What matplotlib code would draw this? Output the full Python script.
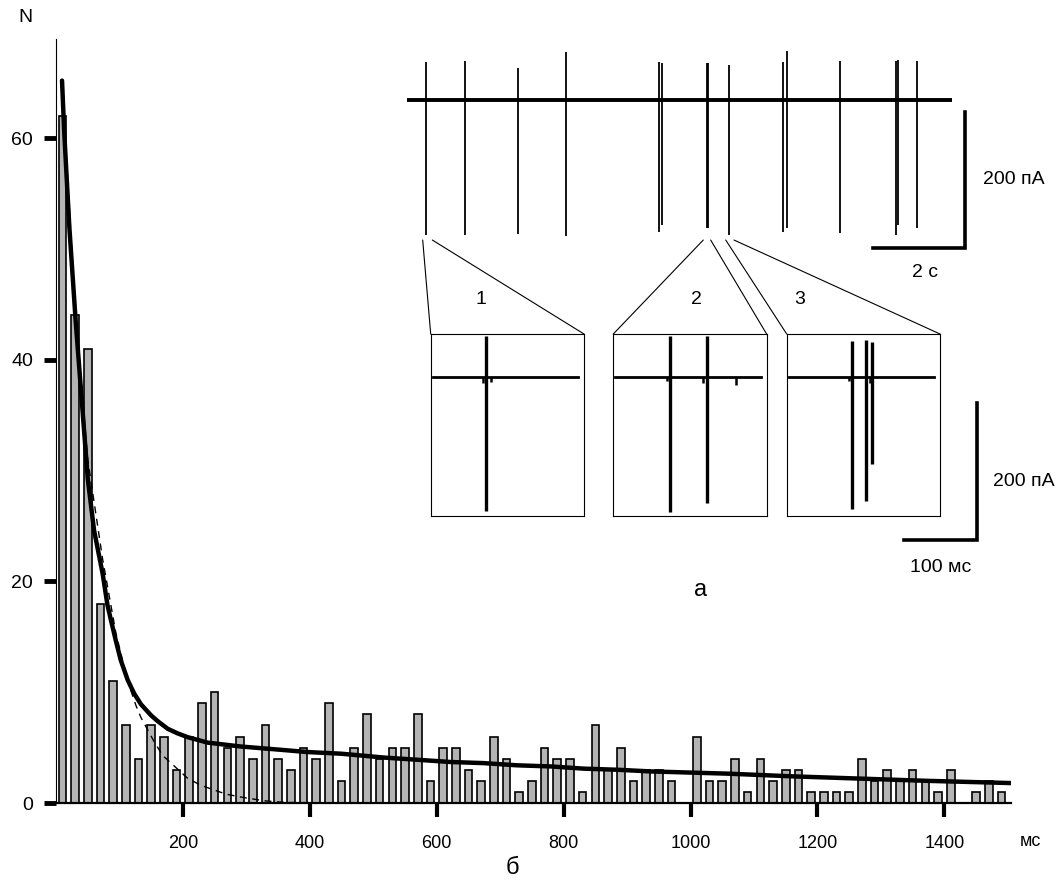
import matplotlib
matplotlib.use("Agg")
import matplotlib.pyplot as plt
from matplotlib.patches import ConnectionPatch

plt.rcParams['font.family'] = ['Liberation Sans', 'DejaVu Sans']

W, H = 1062, 884

# interval histogram, 20 ms bins (bin centres in ms)
bin_ms = list(range(10, 1500, 20))
counts = [62, 44, 41, 18, 11, 7, 4, 7, 6, 3, 6, 9, 10, 5, 6, 4, 7, 4, 3, 5, 4, 9, 2, 5, 8,
          4, 5, 5, 8, 2, 5, 5, 3, 2, 6, 4, 1, 2, 5, 4, 4, 1, 7, 3, 5, 2, 3, 3, 2,
          0, 6, 2, 2, 4, 1, 4, 2, 3, 3, 1, 1, 1, 1, 4, 2, 3, 2, 3, 2, 1, 3, 0, 1, 2, 1]

# fitted curve (thick) and fast component (dashed)
fit_ms = [9.5, 13, 21, 31, 50, 60, 73.5, 81, 86.6, 94.5, 102, 113, 123, 134, 150, 160,
          176, 191, 207, 239, 291, 344, 396, 449, 517, 570, 622, 674, 727, 780, 832,
          885, 937, 1058, 1163, 1268, 1373, 1504]
fit_n = [65.2, 60.5, 52.0, 43.5, 29.3, 24.6, 20.7, 17.9, 16.5, 14.6, 12.9, 11.1, 9.9,
         8.9, 7.9, 7.4, 6.7, 6.3, 5.95, 5.45, 5.1, 4.85, 4.6, 4.45, 4.1, 3.9, 3.7, 3.6,
         3.4, 3.3, 3.1, 3.0, 2.85, 2.65, 2.4, 2.2, 2.0, 1.8]
fast_ms = [9.5, 31, 50, 73.5, 94.5, 113, 126, 134, 155, 168, 207, 228, 268, 291, 328, 360, 450]
fast_n = [65.0, 44.0, 31.0, 22.0, 15.3, 11.0, 8.8, 7.7, 5.5, 4.3, 2.25, 1.6, 0.8, 0.54, 0.2, 0.05, 0.0]

# long recording (s, pA)
trace_end = 11.8
spike_t = [0.405, 1.263, 2.405, 3.439, 5.467, 5.532, 6.494, 6.529, 6.977,
           8.141, 8.228, 9.382, 10.589, 10.633, 11.044]
spike_up = [56, 57, 47, 70, 56, 54, 54, 54, 51, 56, 72, 57, 57, 59, 57]
spike_down = [198, 198, 196, 199, 193, 183, 188, 188, 198, 193, 188, 194, 198, 183, 188]

# expanded fragments 1-3 (ms, pA)
frag_t = [[76.4], [77.7, 127.8], [88.8, 108.5, 117.4]]
frag_up = [[60], [60, 60], [53, 54, 51]]
frag_down = [[195], [197, 184], [193, 181, 127]]
frag_dip_t = [[72, 83], [73, 123, 168], [86, 114]]
frag_dip = [[9, 7], [6, 8, 11], [6, 8]]
# where the zoom lines leave the long trace (s)
frag_anchor = [(0.34, 0.548), (6.42, 6.58), (6.906, 7.085)]
frag_left_px = [430.7, 613.3, 786.7]
frag_names = ['1', '2', '3']
frag_name_px = [(481, 299), (696, 299), (800, 299)]


def px_box(x0, y0, x1, y1):
    return [x0 / W, 1 - y1 / H, (x1 - x0) / W, (y1 - y0) / H]


fig = plt.figure(figsize=(W / 100, H / 100), dpi=100)

# ---- histogram ----
ax = fig.add_axes(px_box(56, 38.5, 1011, 803))
ax.bar(bin_ms, counts, width=12, color='#b4b4b4', edgecolor='black',
       linewidth=1.2, zorder=2)
ax.plot(fast_ms, fast_n, color='black', lw=1.0, ls=(0, (5, 4)), zorder=3)
ax.plot(fit_ms, fit_n, color='black', lw=3.2, zorder=4,
        solid_capstyle='round', solid_joinstyle='round')
ax.set_xlim(0, 1505)
ax.set_ylim(0, 69)
ax.set_yticks([0, 20, 40, 60])
ax.set_xticks(range(200, 1401, 200))
for s in ['top', 'right']:
    ax.spines[s].set_visible(False)
ax.spines['left'].set_linewidth(0.8)
ax.spines['bottom'].set_linewidth(1.6)
ax.tick_params(axis='y', direction='out', length=8.5, width=3.5, pad=8, labelsize=14)
ax.tick_params(axis='x', direction='out', length=10, width=3, pad=13, labelsize=13)
ax.patch.set_alpha(0)

fig.text(25 / W, 1 - 17 / H, 'N', ha='center', va='center', fontsize=14)
fig.text(1030 / W, 1 - 842 / H, 'мс', ha='center', va='center', fontsize=13)
fig.text(512 / W, 1 - 868 / H, 'б', ha='center', va='center', fontsize=17)

# ---- long trace ----
px_s, px_pa = 46.15, 0.683
ax_tr = fig.add_axes(px_box(407, 100 - 80 * px_pa, 407 + 12.3 * px_s, 100 + 225 * px_pa))
ax_tr.set_xlim(0, 12.3)
ax_tr.set_ylim(-225, 80)
ax_tr.axis('off')
ax_tr.plot([0, trace_end], [0, 0], color='black', lw=2.8, solid_capstyle='butt')
ax_tr.vlines(spike_t, [-d for d in spike_down], spike_up, color='black', lw=1.3)
ax_tr.plot([10.09, 12.09, 12.09], [-217, -217, -17], color='black', lw=2.6,
           clip_on=False, solid_joinstyle='miter')
ax_tr.text(11.22, -253, '2 с', ha='center', va='center', fontsize=14)
ax_tr.text(12.48, -117, '200 пА', ha='left', va='center', fontsize=14, clip_on=False)

# ---- expanded fragments ----
for k in range(3):
    left = frag_left_px[k]
    axb = fig.add_axes(px_box(left, 334, left + 153.3, 516))
    axb.set_xlim(0, 210)
    axb.set_ylim(-203, 63)
    axb.set_xticks([])
    axb.set_yticks([])
    for s in axb.spines.values():
        s.set_linewidth(0.8)
    axb.plot([3, 202], [0, 0], color='black', lw=2.0)
    axb.vlines(frag_dip_t[k], [-d for d in frag_dip[k]], 0, color='black', lw=1.8)
    axb.vlines(frag_t[k], [-d for d in frag_down[k]], frag_up[k], color='black', lw=2.4)
    for xa, xb in zip(frag_anchor[k], (0, 1)):
        con = ConnectionPatch(xyA=(xa, -205), coordsA=ax_tr.transData,
                              xyB=(xb, 1), coordsB=axb.transAxes,
                              color='black', lw=0.8)
        fig.add_artist(con)
    fig.text(frag_name_px[k][0] / W, 1 - frag_name_px[k][1] / H, frag_names[k],
             ha='center', va='center', fontsize=14)
    if k == 2:
        # scale bar for the fragments: 100 ms, 200 pA
        axb.plot([160.7, 260.7, 260.7], [-238, -238, -38], color='black', lw=2.6,
                 clip_on=False, solid_joinstyle='miter')
        axb.text(210.7, -278, '100 мс', ha='center', va='center', fontsize=14)
        axb.text(283, -152, '200 пА', ha='left', va='center', fontsize=14)

fig.text(701 / W, 1 - 590 / H, 'а', ha='center', va='center', fontsize=17)

fig.savefig('out.png', dpi=100)
